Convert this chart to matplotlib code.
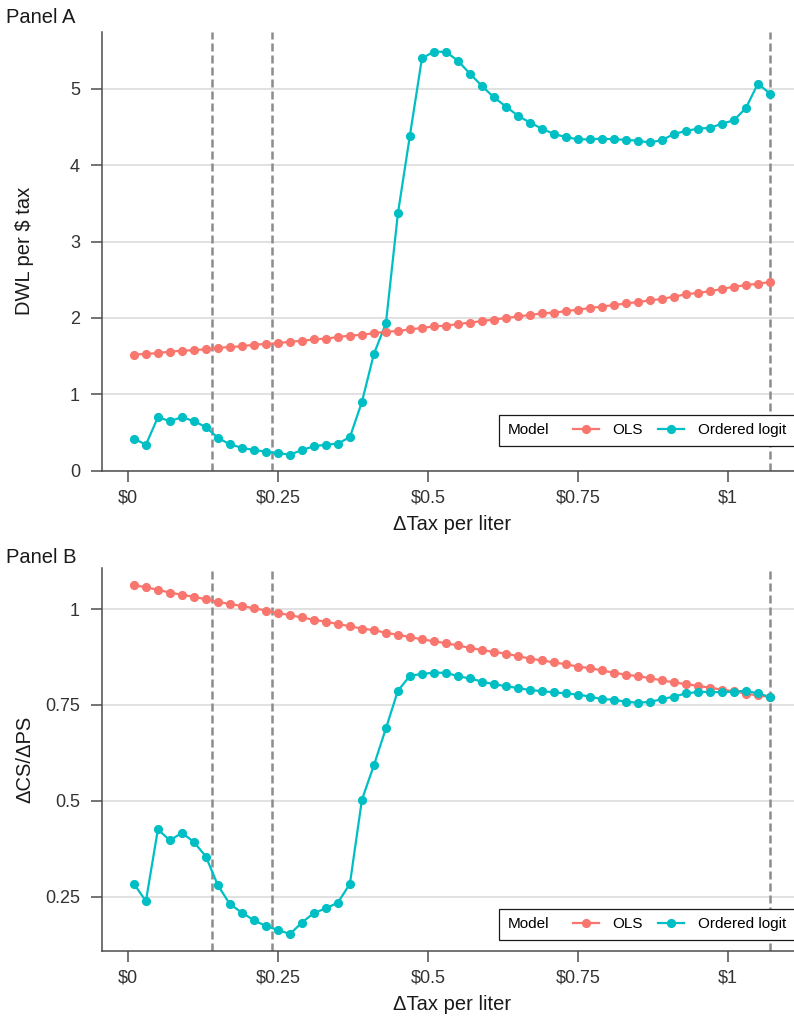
import matplotlib
matplotlib.use("Agg")
import matplotlib.pyplot as plt
from matplotlib.offsetbox import HPacker

plt.rcParams['font.family'] = ['Liberation Sans', 'DejaVu Sans']

# Tax grid ($ per liter)
tax = [0.01, 0.03, 0.05, 0.07, 0.09, 0.11, 0.13, 0.15, 0.17, 0.19,
       0.21, 0.23, 0.25, 0.27, 0.29, 0.31, 0.33, 0.35, 0.37, 0.39,
       0.41, 0.43, 0.45, 0.47, 0.49, 0.51, 0.53, 0.55, 0.57, 0.59,
       0.61, 0.63, 0.65, 0.67, 0.69, 0.71, 0.73, 0.75, 0.77, 0.79,
       0.81, 0.83, 0.85, 0.87, 0.89, 0.91, 0.93, 0.95, 0.97, 0.99,
       1.01, 1.03, 1.05, 1.07]

# Panel A: DWL per $ tax
dwl_ols = [1.52, 1.53, 1.54, 1.56, 1.57, 1.58, 1.59, 1.61, 1.62, 1.63,
           1.65, 1.66, 1.67, 1.69, 1.70, 1.72, 1.73, 1.75, 1.77, 1.78,
           1.80, 1.82, 1.83, 1.85, 1.87, 1.89, 1.90, 1.92, 1.94, 1.96,
           1.98, 2.00, 2.02, 2.04, 2.06, 2.07, 2.09, 2.11, 2.13, 2.15,
           2.17, 2.19, 2.21, 2.23, 2.25, 2.28, 2.31, 2.33, 2.35, 2.38,
           2.41, 2.43, 2.45, 2.47]
dwl_ologit = [0.42, 0.34, 0.70, 0.65, 0.70, 0.65, 0.57, 0.43, 0.345, 0.30,
              0.27, 0.25, 0.23, 0.21, 0.27, 0.32, 0.34, 0.355, 0.44, 0.90,
              1.53, 1.93, 3.37, 4.39, 5.40, 5.49, 5.485, 5.37, 5.20, 5.04,
              4.89, 4.77, 4.65, 4.56, 4.48, 4.41, 4.37, 4.34, 4.34, 4.35,
              4.34, 4.335, 4.32, 4.30, 4.33, 4.41, 4.45, 4.48, 4.49, 4.545,
              4.59, 4.75, 5.07, 4.94]

# Panel B: change in consumer surplus / change in producer surplus
cs_ps_ols = [1.062, 1.057, 1.050, 1.043, 1.037, 1.032, 1.025, 1.019, 1.013, 1.008,
             1.002, 0.996, 0.990, 0.984, 0.978, 0.972, 0.967, 0.961, 0.955, 0.949,
             0.945, 0.938, 0.933, 0.927, 0.921, 0.916, 0.911, 0.905, 0.899, 0.893,
             0.888, 0.884, 0.877, 0.871, 0.866, 0.861, 0.856, 0.850, 0.846, 0.840,
             0.834, 0.829, 0.825, 0.820, 0.814, 0.809, 0.804, 0.800, 0.795, 0.790,
             0.786, 0.779, 0.775, 0.771]
cs_ps_ologit = [0.284, 0.239, 0.426, 0.397, 0.417, 0.393, 0.355, 0.280, 0.231, 0.209,
                0.189, 0.174, 0.164, 0.153, 0.183, 0.208, 0.220, 0.235, 0.284, 0.503,
                0.593, 0.689, 0.787, 0.826, 0.831, 0.834, 0.834, 0.825, 0.819, 0.811,
                0.804, 0.799, 0.794, 0.789, 0.786, 0.783, 0.780, 0.777, 0.772, 0.765,
                0.764, 0.758, 0.756, 0.758, 0.765, 0.772, 0.780, 0.784, 0.784, 0.783,
                0.785, 0.787, 0.780, 0.771]

vlines = [0.14, 0.24, 1.07]
xticks = [0, 0.25, 0.5, 0.75, 1]
xtick_labels = ['\\$0', '\\$0.25', '\\$0.5', '\\$0.75', '\\$1']

OLS_COLOR = '#F8766D'
OLOGIT_COLOR = '#00BFC4'
AXIS_COLOR = '#4d4d4d'
MS = 6.6


def draw_panel(ax, y_ols, y_ologit, ylabel, yticks, ytick_labels, ylim, legend_y):
    for xv in vlines:
        ax.axvline(xv, color='#8c8c8c', lw=1.8, dashes=(3.2, 1.6), zorder=1.5)

    # lines first, then points (ggplot layer order)
    ax.plot(tax, y_ols, '-', color=OLS_COLOR, lw=1.6, zorder=2)
    ax.plot(tax, y_ologit, '-', color=OLOGIT_COLOR, lw=1.6, zorder=2)
    ax.plot(tax, y_ols, 'o', color=OLS_COLOR, ms=MS, mew=0, zorder=3)
    ax.plot(tax, y_ologit, 'o', color=OLOGIT_COLOR, ms=MS, mew=0, zorder=3)

    ax.set_xlim(-0.0438, 1.123)
    ax.set_ylim(*ylim)
    ax.set_xticks(xticks)
    ax.set_xticklabels(xtick_labels)
    ax.set_yticks(yticks)
    ax.set_yticklabels(ytick_labels)

    ax.yaxis.grid(True, color='#d9d9d9', lw=1.1)
    ax.set_axisbelow(True)
    for side in ('top', 'right'):
        ax.spines[side].set_visible(False)
    for side in ('left', 'bottom'):
        ax.spines[side].set_color(AXIS_COLOR)
        ax.spines[side].set_linewidth(1.1)
    ax.tick_params(direction='out', length=8, width=1.1, color=AXIS_COLOR,
                   labelcolor='#333333', labelsize=13)
    ax.tick_params(axis='y', pad=7.5)
    ax.tick_params(axis='x', pad=5.5)

    ax.set_xlabel('ΔTax per liter', fontsize=14.5, color='#1a1a1a', labelpad=6)
    ax.set_ylabel(ylabel, fontsize=14.5, color='#1a1a1a')
    ax.yaxis.set_label_coords(-0.096, 0.5)

    h_ols = plt.Line2D([], [], color=OLS_COLOR, lw=1.6, marker='o', ms=MS, mew=0)
    h_ologit = plt.Line2D([], [], color=OLOGIT_COLOR, lw=1.6, marker='o', ms=MS, mew=0)
    leg = ax.legend([h_ols, h_ologit], ['OLS', 'Ordered logit'], title='Model', ncol=2,
                    loc='lower left', bbox_to_anchor=(0.568, legend_y), borderaxespad=0,
                    fancybox=False, edgecolor='#1a1a1a', framealpha=1, fontsize=11,
                    title_fontsize=11, handlelength=1.7, handletextpad=0.9,
                    columnspacing=1.0, borderpad=0.55)
    leg.get_frame().set_linewidth(0.9)
    # put the legend title to the left of the keys, as ggplot does
    leg._legend_box.__class__ = HPacker
    leg._legend_box.sep = 17
    leg._legend_box.align = 'center'
    return leg


fig = plt.figure(figsize=(7.94, 10.23), dpi=100)
ax_a = fig.add_axes([0.128, 0.5399, 0.8817, 0.4291])
ax_b = fig.add_axes([0.128, 0.0704, 0.8817, 0.3744])

draw_panel(ax_a, dwl_ols, dwl_ologit, 'DWL per \\$ tax',
           [0, 1, 2, 3, 4, 5], ['0', '1', '2', '3', '4', '5'], (0, 5.75), 0.057)
draw_panel(ax_b, cs_ps_ols, cs_ps_ologit, 'ΔCS/ΔPS',
           [0.25, 0.5, 0.75, 1], ['0.25', '0.5', '0.75', '1'], (0.109, 1.107), 0.029)

fig.text(0.008, 0.992, 'Panel A', fontsize=14.5, va='top', ha='left', color='#1a1a1a')
fig.text(0.008, 0.4643, 'Panel B', fontsize=14.5, va='top', ha='left', color='#1a1a1a')

fig.savefig('out.png', dpi=100)
